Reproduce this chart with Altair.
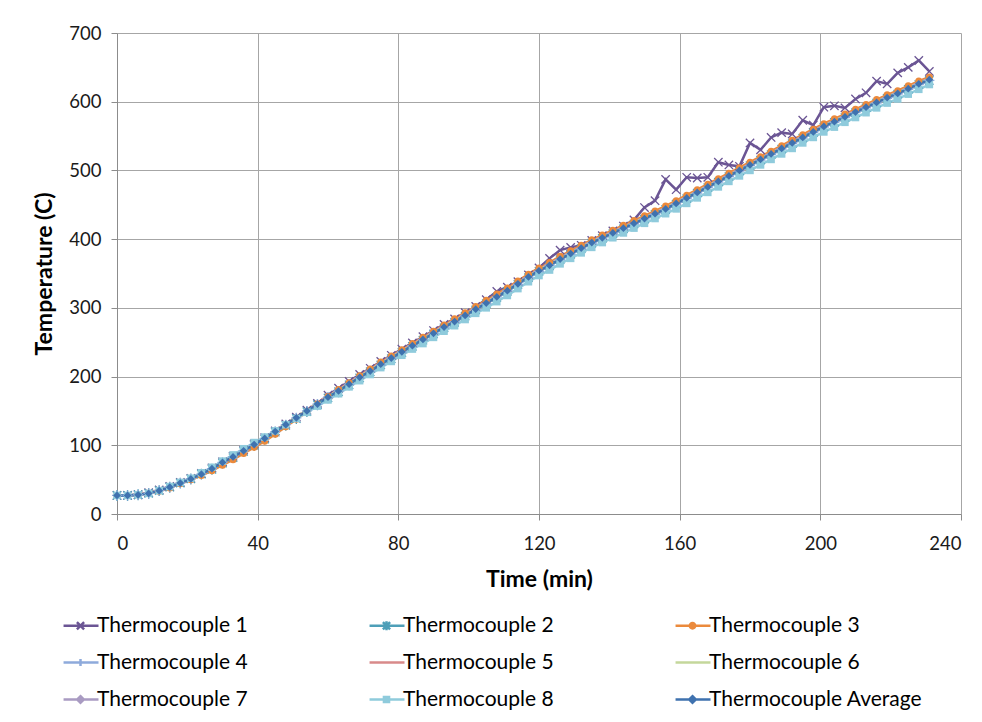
import altair as alt
import pandas as pd

times = [0, 3, 6, 9, 12, 15, 18, 21, 24, 27, 30, 33, 36, 39, 42, 45, 48, 51, 54, 57,
         60, 63, 66, 69, 72, 75, 78, 81, 84, 87, 90, 93, 96, 99, 102, 105, 108, 111, 114, 117,
         120, 123, 126, 129, 132, 135, 138, 141, 144, 147, 150, 153, 156, 159, 162, 165, 168, 171, 174, 177,
         180, 183, 186, 189, 192, 195, 198, 201, 204, 207, 210, 213, 216, 219, 222, 225, 228, 231]

tc1 = [27, 27, 28, 31, 35, 40, 46, 52, 59, 67,
       76, 84, 93, 102, 111, 121, 131, 141, 151, 161,
       173, 183, 193, 203, 212, 222, 231, 240, 249, 258,
       267, 276, 284, 293, 302, 312, 324, 330, 338, 348,
       358, 372, 384, 388, 391, 398, 405, 412, 419, 428,
       446, 456, 487, 472, 490, 489, 490, 512, 508, 506,
       540, 530, 548, 555, 553, 573, 566, 592, 594, 591,
       604, 613, 630, 626, 642, 650, 660, 644]
tc2 = [27, 27, 28, 30, 34, 39, 45, 51, 58, 65,
       74, 82, 91, 100, 109, 119, 129, 139, 149, 159,
       169, 178, 188, 198, 207, 217, 226, 235, 244, 253,
       262, 271, 279, 288, 297, 306, 315, 324, 334, 344,
       353, 361, 370, 378, 386, 394, 401, 408, 415, 422,
       429, 436, 443, 451, 459, 467, 475, 483, 491, 499,
       507, 515, 523, 531, 539, 547, 555, 563, 570, 577,
       584, 591, 598, 605, 611, 618, 625, 631]
tc3 = [27, 27, 28, 30, 33, 38, 44, 50, 56, 63,
       71, 79, 88, 97, 106, 116, 127, 138, 149, 160,
       171, 181, 191, 201, 211, 221, 230, 239, 248, 257,
       266, 275, 284, 293, 302, 311, 320, 329, 339, 349,
       358, 366, 375, 383, 391, 399, 406, 413, 420, 427,
       434, 441, 448, 456, 464, 472, 480, 488, 496, 504,
       512, 520, 528, 536, 544, 552, 560, 568, 575, 582,
       589, 596, 603, 610, 616, 623, 630, 636]
tc4 = [27, 27, 28, 30, 34, 39, 45, 51, 58, 66,
       75, 83, 92, 101, 110, 120, 130, 140, 150, 160,
       170, 179, 189, 198, 208, 217, 227, 236, 245, 254,
       263, 271, 280, 289, 298, 306, 316, 325, 334, 344,
       353, 362, 370, 378, 386, 394, 401, 408, 415, 422,
       429, 436, 443, 451, 459, 467, 475, 483, 491, 499,
       507, 515, 523, 531, 539, 547, 555, 563, 570, 577,
       584, 591, 598, 605, 611, 618, 625, 631]
tc5 = [27, 27, 28, 31, 35, 40, 46, 52, 59, 67,
       76, 84, 93, 102, 111, 121, 131, 141, 151, 162,
       172, 181, 191, 201, 210, 220, 229, 238, 247, 256,
       265, 274, 282, 291, 300, 309, 318, 327, 337, 347,
       356, 364, 373, 381, 389, 397, 404, 411, 418, 425,
       432, 439, 446, 454, 462, 470, 478, 486, 494, 502,
       510, 518, 526, 534, 542, 550, 558, 566, 573, 580,
       587, 594, 601, 608, 614, 621, 628, 634]
tc6 = [27, 27, 28, 30, 34, 39, 45, 51, 58, 66,
       75, 84, 93, 102, 111, 121, 131, 141, 151, 161,
       171, 180, 190, 200, 209, 219, 228, 237, 246, 255,
       264, 273, 281, 290, 299, 308, 317, 326, 336, 346,
       355, 363, 372, 380, 388, 396, 403, 410, 417, 424,
       431, 438, 445, 453, 461, 469, 477, 485, 493, 501,
       509, 517, 525, 533, 541, 549, 557, 565, 572, 579,
       586, 593, 600, 607, 613, 620, 627, 633]
tc7 = [27, 27, 28, 30, 34, 39, 45, 51, 58, 66,
       75, 83, 92, 101, 110, 120, 130, 140, 150, 160,
       170, 179, 189, 199, 208, 218, 227, 236, 245, 254,
       263, 272, 280, 289, 298, 307, 316, 325, 335, 345,
       354, 362, 371, 379, 387, 395, 402, 409, 416, 423,
       430, 437, 444, 452, 460, 468, 476, 484, 492, 500,
       508, 516, 524, 532, 540, 548, 556, 564, 571, 578,
       585, 592, 599, 606, 612, 619, 626, 632]
tc8 = [27, 27, 28, 30, 34, 40, 46, 52, 60, 68,
       77, 86, 95, 104, 112, 121, 130, 139, 148, 157,
       166, 175, 185, 194, 203, 213, 222, 231, 240, 248,
       257, 266, 274, 283, 292, 300, 309, 318, 328, 338,
       347, 355, 364, 372, 380, 388, 395, 402, 409, 416,
       423, 430, 437, 444, 452, 460, 468, 476, 484, 492,
       500, 508, 516, 524, 532, 540, 548, 556, 563, 570,
       577, 584, 591, 598, 604, 611, 618, 625]
tc_avg = [27, 27, 28, 30, 34, 39, 45, 51, 58, 66,
          75, 83, 92, 101, 110, 120, 130, 140, 150, 160,
          170, 179, 189, 199, 208, 218, 227, 236, 245, 254,
          263, 272, 280, 289, 298, 307, 316, 325, 335, 345,
          354, 362, 371, 379, 387, 395, 402, 409, 416, 423,
          430, 437, 444, 452, 460, 468, 476, 484, 492, 500,
          508, 516, 524, 532, 540, 548, 556, 564, 571, 578,
          585, 592, 599, 606, 612, 619, 626, 632]

series_names = ["Thermocouple 1", "Thermocouple 2", "Thermocouple 3",
                "Thermocouple 4", "Thermocouple 5", "Thermocouple 6",
                "Thermocouple 7", "Thermocouple 8", "Thermocouple Average"]
series_values = [tc1, tc2, tc3, tc4, tc5, tc6, tc7, tc8, tc_avg]
series_colors = ["#6B5594", "#4E9FB8", "#EB8A3C", "#8EAADB", "#D88A8A",
                 "#C4D79B", "#A99BC2", "#8FCBDC", "#3F72AF"]

x_ticks = [0, 40, 80, 120, 160, 200, 240]
y_ticks = [0, 100, 200, 300, 400, 500, 600, 700]

rows = []
for k, (name, vals) in enumerate(zip(series_names, series_values)):
    for t, v in zip(times, vals):
        rows.append({"t": t, "temp": v, "series": name, "k": k})
df = pd.DataFrame(rows)

FONT = "Lato"

x_enc = alt.X("t:Q", scale=alt.Scale(domain=[0, 240], nice=False, zero=False),
              axis=alt.Axis(values=x_ticks, title="Time (min)", format="d",
                            labelPadding=14, titleY=65, titleBaseline="middle"))
y_enc = alt.Y("temp:Q", scale=alt.Scale(domain=[0, 700], nice=False),
              axis=alt.Axis(values=y_ticks, title="Temperature (C)", format="d",
                            labelPadding=10, titleX=-73, titleBaseline="middle"))
color_enc = alt.Color("series:N", scale=alt.Scale(domain=series_names, range=series_colors),
                      legend=None)
width_enc = alt.StrokeWidth("series:N", scale=alt.Scale(
    domain=series_names, range=[2.5, 2.5, 2.5, 2.5, 2.5, 2.5, 2.5, 4, 5]), legend=None)

base = alt.Chart(df)

lines = base.mark_line().encode(
    x=x_enc, y=y_enc, color=color_enc, strokeWidth=width_enc, order="t:Q")

open_names = ["Thermocouple 1", "Thermocouple 2", "Thermocouple 4"]
open_shapes = ["M-1,-1L1,1M-1,1L1,-1",
               "M-1,-1L1,1M-1,1L1,-1M0,-1.3L0,1.3",
               "M-1.2,0L1.2,0M0,-1.2L0,1.2"]
open_pts = base.transform_filter(
    alt.FieldOneOfPredicate(field="series", oneOf=open_names)
).mark_point(filled=False, size=70, strokeWidth=1.3, opacity=1).encode(
    x=x_enc, y=y_enc, color=color_enc,
    shape=alt.Shape("series:N", scale=alt.Scale(domain=open_names, range=open_shapes), legend=None))

filled_names = ["Thermocouple 3", "Thermocouple 7", "Thermocouple 8", "Thermocouple Average"]
filled_shapes = ["circle", "diamond", "square", "diamond"]
filled_pts = base.transform_filter(
    alt.FieldOneOfPredicate(field="series", oneOf=filled_names)
).mark_point(filled=True, opacity=1).encode(
    x=x_enc, y=y_enc, color=color_enc,
    shape=alt.Shape("series:N", scale=alt.Scale(domain=filled_names, range=filled_shapes), legend=None),
    size=alt.Size("series:N", scale=alt.Scale(domain=filled_names, range=[50, 60, 110, 130]), legend=None))

LN = "M-1.13,0L1.2,0"
leg_shapes = [
    LN + "M-0.24,-0.24L0.24,0.24M-0.24,0.24L0.24,-0.24",
    LN + "M-0.24,-0.24L0.24,0.24M-0.24,0.24L0.24,-0.24M0,-0.3L0,0.3",
    LN + "M-0.18,0A0.18,0.18,0,1,1,0.18,0A0.18,0.18,0,1,1,-0.18,0Z",
    LN + "M-0.24,0L0.24,0M0,-0.24L0,0.24",
    LN,
    LN,
    LN + "M0,-0.22L0.22,0L0,0.22L-0.22,0Z",
    LN + "M-0.17,-0.17L0.17,-0.17L0.17,0.17L-0.17,0.17Z",
    LN + "M0,-0.22L0.22,0L0,0.22L-0.22,0Z",
]


def make_legend():
    return alt.Legend(
        title=None, orient="none", legendX=-53, legendY=576, direction="horizontal",
        columns=3, columnPadding=116, rowPadding=10, padding=0,
        symbolSize=900, symbolStrokeWidth=2.5, symbolOpacity=1,
        labelFont=FONT, labelFontSize=21, labelColor="#000000",
        labelOffset=0, labelLimit=0)


legend_layer = base.transform_filter(alt.datum.t < 0).mark_point().encode(
    x=x_enc, y=y_enc,
    shape=alt.Shape("series:N", scale=alt.Scale(domain=series_names, range=leg_shapes),
                    legend=make_legend()),
    fill=alt.Fill("series:N", scale=alt.Scale(domain=series_names, range=series_colors),
                  legend=make_legend()),
    stroke=alt.Stroke("series:N", scale=alt.Scale(domain=series_names, range=series_colors),
                      legend=make_legend()),
)

chart = alt.layer(lines, open_pts, filled_pts, legend_layer).resolve_scale(
    shape="independent", fill="independent", stroke="independent", size="independent"
).properties(
    width=844, height=481,
    padding={"left": 109, "top": 25, "right": 13, "bottom": 205},
    autosize="none",
    background="white",
).configure_view(stroke=None).configure_axis(
    labelFont=FONT, labelFontSize=18.5, labelColor="#1a1a1a",
    titleFont=FONT, titleFontSize=23, titleFontWeight="bold", titleColor="#000000",
    gridColor="#A6A6A6", gridWidth=1, domainColor="#8C8C8C", domainWidth=1,
    tickColor="#8C8C8C", tickSize=6, tickWidth=1,
)

chart.save("out.html", embed_options={"renderer": "svg", "actions": False})
